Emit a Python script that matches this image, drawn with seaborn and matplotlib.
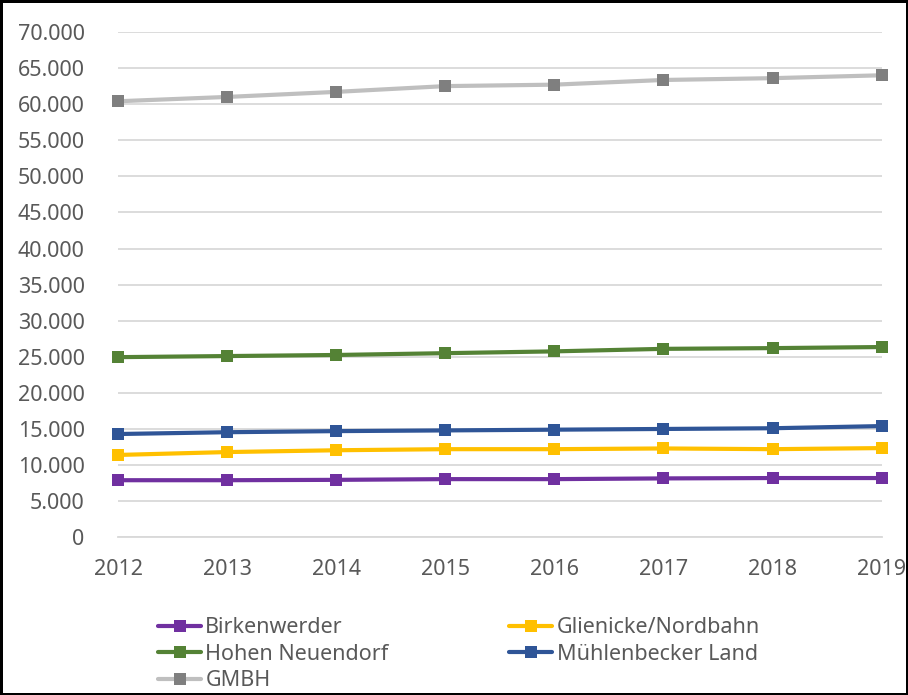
import seaborn as sns
import matplotlib.pyplot as plt
import matplotlib.ticker as mticker
import pandas as pd

years = [2012, 2013, 2014, 2015, 2016, 2017, 2018, 2019]
birkenwerder = [7900, 7900, 7950, 8050, 8050, 8150, 8200, 8200]
glienicke = [11400, 11800, 12050, 12200, 12200, 12300, 12200, 12350]
hohen_neuendorf = [24950, 25100, 25250, 25500, 25750, 26100, 26200, 26350]
muehlenbecker = [14300, 14550, 14700, 14800, 14900, 15000, 15100, 15400]
gmbh = [60400, 61000, 61700, 62500, 62700, 63350, 63600, 64000]

names = ['Birkenwerder', 'Glienicke/Nordbahn', 'Hohen Neuendorf',
         'Mühlenbecker Land', 'GMBH']
series = [birkenwerder, glienicke, hohen_neuendorf, muehlenbecker, gmbh]
line_colors = ['#7030A0', '#FFC000', '#548235', '#2F5597', '#BFBFBF']
marker_colors = ['#7030A0', '#FFC000', '#548235', '#2F5597', '#7F7F7F']

rows = []
for n, vals in zip(names, series):
    for y, v in zip(years, vals):
        rows.append({'Jahr': y, 'Einwohner': v, 'Gemeinde': n})
df = pd.DataFrame(rows)

sns.set_style('white')
plt.rcParams['font.family'] = ['Noto Sans', 'DejaVu Sans']

fig = plt.figure(figsize=(9.08, 6.95), dpi=100)
ax = fig.add_axes([0.130, 0.227, 0.841, 0.727])

sns.lineplot(data=df, x='Jahr', y='Einwohner', hue='Gemeinde',
             hue_order=names, palette=line_colors, style='Gemeinde',
             markers=['s'] * 5, dashes=False, linewidth=3.0,
             markersize=8, markeredgewidth=0, ax=ax, legend=False)

for line, mc in zip(ax.lines, marker_colors):
    line.set_markerfacecolor(mc)
    line.set_markeredgecolor(mc)
    line.set_clip_on(False)

ax.set_xlim(2012, 2019)
ax.set_ylim(0, 70000)
ax.set_yticks(range(0, 70001, 5000))
ax.set_xticks(years)
ax.yaxis.set_major_formatter(mticker.FuncFormatter(
    lambda v, p: '0' if v == 0 else f'{int(v):,}'.replace(',', '.')))
ax.grid(axis='y', color='#D9D9D9', linewidth=1.3)
ax.set_axisbelow(True)
for s in ['top', 'right', 'left']:
    ax.spines[s].set_visible(False)
ax.spines['bottom'].set_color('#D9D9D9')
ax.spines['bottom'].set_linewidth(1.3)
ax.tick_params(axis='x', direction='inout', length=12, width=1.3,
               color='#D9D9D9', labelsize=15.5, labelcolor='#595959', pad=10)
ax.tick_params(axis='y', length=0, labelsize=15.5, labelcolor='#595959', pad=24)
ax.set_xlabel('')
ax.set_ylabel('')

# legend: column-wise order so rows read Birkenwerder | Glienicke ...
order = [0, 2, 4, 1, 3]
handles = [plt.Line2D([], [], color=line_colors[i], linewidth=3.0, marker='s',
                      markersize=8, markerfacecolor=marker_colors[i],
                      markeredgewidth=0) for i in order]
labels = [names[i] for i in order]
fig.legend(handles, labels, loc='upper left', bbox_to_anchor=(0.174, 0.112),
           ncol=2, frameon=False, fontsize=15.5, labelcolor='#595959',
           handlelength=2.0, handletextpad=0.2, columnspacing=5.6,
           labelspacing=0.26, borderaxespad=0, borderpad=0)

fig.patch.set_edgecolor('black')
fig.patch.set_linewidth(2.5)
fig.savefig('out.png', dpi=100, edgecolor=fig.get_edgecolor())
